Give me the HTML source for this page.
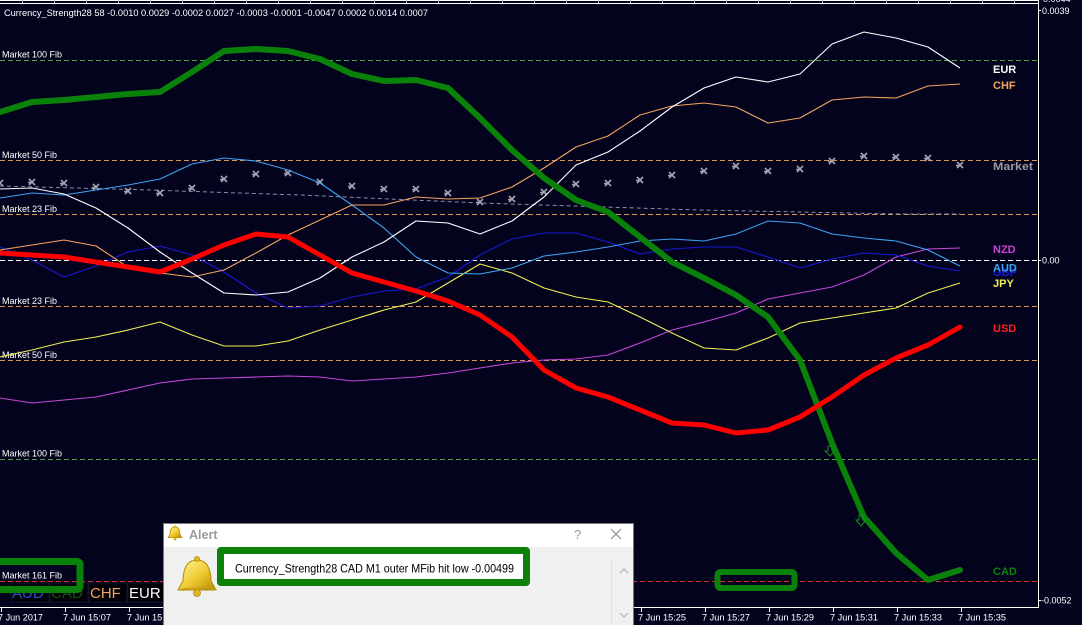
<!DOCTYPE html>
<html><head><meta charset="utf-8"><style>
html,body{margin:0;padding:0;background:#03031e;}
svg{display:block;}
text{font-family:"Liberation Sans",sans-serif;}
</style></head><body>
<svg width="1082" height="625" viewBox="0 0 1082 625" xmlns="http://www.w3.org/2000/svg">
<defs>
<linearGradient id="gold" x1="0" y1="0" x2="1" y2="1">
<stop offset="0" stop-color="#fff3a0"/><stop offset="0.5" stop-color="#f2cf3a"/><stop offset="1" stop-color="#b88a00"/>
</linearGradient>
</defs>
<rect x="0" y="0" width="1082" height="625" fill="#03031e"/>
<!-- top border -->
<line x1="0" y1="0.5" x2="1038" y2="0.5" stroke="#fff" stroke-width="1"/>
<line x1="0" y1="3.5" x2="1038" y2="3.5" stroke="#fff" stroke-width="1"/>
<g stroke="#bbb" stroke-width="1">
<line x1="22.5" y1="0" x2="22.5" y2="3"/><line x1="54.5" y1="0" x2="54.5" y2="3"/><line x1="86.5" y1="0" x2="86.5" y2="3"/><line x1="118.5" y1="0" x2="118.5" y2="3"/><line x1="150.5" y1="0" x2="150.5" y2="3"/><line x1="182.5" y1="0" x2="182.5" y2="3"/><line x1="214.5" y1="0" x2="214.5" y2="3"/><line x1="246.5" y1="0" x2="246.5" y2="3"/><line x1="278.5" y1="0" x2="278.5" y2="3"/><line x1="310.5" y1="0" x2="310.5" y2="3"/><line x1="342.5" y1="0" x2="342.5" y2="3"/><line x1="374.5" y1="0" x2="374.5" y2="3"/><line x1="406.5" y1="0" x2="406.5" y2="3"/><line x1="438.5" y1="0" x2="438.5" y2="3"/><line x1="470.5" y1="0" x2="470.5" y2="3"/><line x1="502.5" y1="0" x2="502.5" y2="3"/><line x1="534.5" y1="0" x2="534.5" y2="3"/><line x1="566.5" y1="0" x2="566.5" y2="3"/><line x1="598.5" y1="0" x2="598.5" y2="3"/><line x1="630.5" y1="0" x2="630.5" y2="3"/><line x1="662.5" y1="0" x2="662.5" y2="3"/><line x1="694.5" y1="0" x2="694.5" y2="3"/><line x1="726.5" y1="0" x2="726.5" y2="3"/><line x1="758.5" y1="0" x2="758.5" y2="3"/><line x1="790.5" y1="0" x2="790.5" y2="3"/><line x1="822.5" y1="0" x2="822.5" y2="3"/><line x1="854.5" y1="0" x2="854.5" y2="3"/><line x1="886.5" y1="0" x2="886.5" y2="3"/><line x1="918.5" y1="0" x2="918.5" y2="3"/><line x1="950.5" y1="0" x2="950.5" y2="3"/><line x1="982.5" y1="0" x2="982.5" y2="3"/><line x1="1014.5" y1="0" x2="1014.5" y2="3"/>
</g>
<text x="1043" y="2" font-size="9" fill="#fff">0.0044</text>

<!-- header -->
<text x="4" y="16" font-size="9" fill="#fff" textLength="424" lengthAdjust="spacingAndGlyphs">Currency_Strength28 58 -0.0010 0.0029 -0.0002 0.0027 -0.0003 -0.0001 -0.0047 0.0002 0.0014 0.0007</text>

<!-- horizontal levels -->
<g fill="none" stroke-width="1">
<line x1="0" y1="60.5" x2="1038" y2="60.5" stroke="#4aa84a" stroke-dasharray="5,3"/>
<line x1="0" y1="160.5" x2="1038" y2="160.5" stroke="#d4985a" stroke-dasharray="5,3"/>
<line x1="0" y1="214.5" x2="1038" y2="214.5" stroke="#d4985a" stroke-dasharray="5,3"/>
<line x1="0" y1="260.5" x2="1038" y2="260.5" stroke="#ffffff" stroke-dasharray="5,3"/>
<line x1="0" y1="306.5" x2="1038" y2="306.5" stroke="#d4985a" stroke-dasharray="5,3"/>
<line x1="0" y1="360.5" x2="1038" y2="360.5" stroke="#d4985a" stroke-dasharray="5,3"/>
<line x1="0" y1="459.5" x2="1038" y2="459.5" stroke="#4aa84a" stroke-dasharray="5,3"/>
<line x1="0" y1="581.5" x2="1038" y2="581.5" stroke="#c83232" stroke-dasharray="5,3"/>
<polyline points="0,186 150,190 300,195 480,203 700,210 900,214 960,214" stroke="#8c8cae" stroke-dasharray="4,3"/>
</g>

<!-- left labels -->
<g font-size="9" fill="#fff">
<text x="2" y="57.5">Market 100 Fib</text>
<text x="2" y="158">Market 50 Fib</text>
<text x="2" y="212">Market 23 Fib</text>
<text x="2" y="304">Market 23 Fib</text>
<text x="2" y="358">Market 50 Fib</text>
<text x="2" y="456.5">Market 100 Fib</text>
<text x="2" y="578.5">Market 161 Fib</text>
</g>

<!-- market stars -->
<g stroke="#a4a4b0" stroke-width="1.6" fill="none">
<path d="M-3,-3L3,3M3,-3L-3,3M-4,0.5L0,0.5" transform="translate(0,183)"/>
<path d="M-3,-3L3,3M3,-3L-3,3M-4,0.5L0,0.5" transform="translate(32,182)"/>
<path d="M-3,-3L3,3M3,-3L-3,3M-4,0.5L0,0.5" transform="translate(64,183)"/>
<path d="M-3,-3L3,3M3,-3L-3,3M-4,0.5L0,0.5" transform="translate(96,187)"/>
<path d="M-3,-3L3,3M3,-3L-3,3M-4,0.5L0,0.5" transform="translate(128,191)"/>
<path d="M-3,-3L3,3M3,-3L-3,3M-4,0.5L0,0.5" transform="translate(160,193)"/>
<path d="M-3,-3L3,3M3,-3L-3,3M-4,0.5L0,0.5" transform="translate(192,188)"/>
<path d="M-3,-3L3,3M3,-3L-3,3M-4,0.5L0,0.5" transform="translate(224,179)"/>
<path d="M-3,-3L3,3M3,-3L-3,3M-4,0.5L0,0.5" transform="translate(256,174)"/>
<path d="M-3,-3L3,3M3,-3L-3,3M-4,0.5L0,0.5" transform="translate(288,173)"/>
<path d="M-3,-3L3,3M3,-3L-3,3M-4,0.5L0,0.5" transform="translate(320,182)"/>
<path d="M-3,-3L3,3M3,-3L-3,3M-4,0.5L0,0.5" transform="translate(352,186)"/>
<path d="M-3,-3L3,3M3,-3L-3,3M-4,0.5L0,0.5" transform="translate(384,189)"/>
<path d="M-3,-3L3,3M3,-3L-3,3M-4,0.5L0,0.5" transform="translate(416,189)"/>
<path d="M-3,-3L3,3M3,-3L-3,3M-4,0.5L0,0.5" transform="translate(448,193)"/>
<path d="M-3,-3L3,3M3,-3L-3,3M-4,0.5L0,0.5" transform="translate(480,202)"/>
<path d="M-3,-3L3,3M3,-3L-3,3M-4,0.5L0,0.5" transform="translate(512,199)"/>
<path d="M-3,-3L3,3M3,-3L-3,3M-4,0.5L0,0.5" transform="translate(544,192)"/>
<path d="M-3,-3L3,3M3,-3L-3,3M-4,0.5L0,0.5" transform="translate(576,184)"/>
<path d="M-3,-3L3,3M3,-3L-3,3M-4,0.5L0,0.5" transform="translate(608,183)"/>
<path d="M-3,-3L3,3M3,-3L-3,3M-4,0.5L0,0.5" transform="translate(640,180)"/>
<path d="M-3,-3L3,3M3,-3L-3,3M-4,0.5L0,0.5" transform="translate(672,175)"/>
<path d="M-3,-3L3,3M3,-3L-3,3M-4,0.5L0,0.5" transform="translate(704,171)"/>
<path d="M-3,-3L3,3M3,-3L-3,3M-4,0.5L0,0.5" transform="translate(736,166)"/>
<path d="M-3,-3L3,3M3,-3L-3,3M-4,0.5L0,0.5" transform="translate(768,171)"/>
<path d="M-3,-3L3,3M3,-3L-3,3M-4,0.5L0,0.5" transform="translate(800,169)"/>
<path d="M-3,-3L3,3M3,-3L-3,3M-4,0.5L0,0.5" transform="translate(832,161)"/>
<path d="M-3,-3L3,3M3,-3L-3,3M-4,0.5L0,0.5" transform="translate(864,156)"/>
<path d="M-3,-3L3,3M3,-3L-3,3M-4,0.5L0,0.5" transform="translate(896,157)"/>
<path d="M-3,-3L3,3M3,-3L-3,3M-4,0.5L0,0.5" transform="translate(928,158)"/>
<path d="M-3,-3L3,3M3,-3L-3,3M-4,0.5L0,0.5" transform="translate(960,165)"/>
</g>

<!-- thin series -->
<g fill="none" stroke-width="1.1" stroke-linejoin="round">
<polyline stroke="#c848d8" points="0,398 32,403 64,400 96,397 128,390 160,383 192,379 224,378 256,377 288,376 320,377 352,381 384,379 416,377 448,373 480,368 512,363 544,360 576,359 608,355 640,343 672,330 704,322 736,313 768,299 800,293 832,287 864,275 896,257 928,249 960,248"/>
<polyline stroke="#f0f050" points="0,357 32,350 64,342 96,337 128,330 160,322 192,335 224,346 256,346 288,341 320,330 352,320 384,310 416,302 448,283 480,264 512,273 544,288 576,297 608,302 640,317 672,333 704,348 736,350 768,338 800,323 832,318 864,313 896,308 928,293 960,283"/>
<polyline stroke="#1818d8" points="0,247 32,260 64,277 96,266 128,252 160,246 192,255 224,272 256,293 288,308 320,306 352,297 384,291 416,289 448,277 480,255 512,239 544,233 576,233 608,242 640,254 672,249 704,247 736,247 768,257 800,268 832,259 864,253 896,255 928,266 960,271"/>
<polyline stroke="#3ca4f0" points="0,198 32,193 64,195 96,190 128,185 160,179 192,164 224,158 256,161 288,170 320,183 352,205 384,228 416,257 448,273 480,274 512,268 544,256 576,252 608,247 640,241 672,239 704,241 736,234 768,221 800,223 832,234 864,238 896,241 928,250 960,266"/>
<polyline stroke="#f4a460" points="0,250 32,245 64,240 96,246 128,267 160,273 192,277 224,270 256,253 288,235 320,220 352,205 384,205 416,197 448,199 480,198 512,187 544,168 576,147 608,136 640,115 672,106 704,103 736,107 768,123 800,118 832,100 864,97 896,98 928,86 960,84"/>
<polyline stroke="#ffffff" points="0,189 32,188 64,194 96,208 128,228 160,252 192,273 224,293 256,295 288,292 320,278 352,257 384,242 416,221 448,223 480,234 512,221 544,197 576,165 608,152 640,131 672,107 704,88 736,77 768,82 800,74 832,44 864,32 896,38 928,47 960,68"/>
</g>

<!-- thick series -->
<polyline fill="none" stroke="#0a820a" stroke-width="6" stroke-linejoin="round" stroke-linecap="round" points="0,112 32,102 64,100 96,97 128,94 160,92 192,72 224,51 256,49 288,51 320,59 352,74 384,81 416,80 448,88 480,118 512,150 544,178 576,200 608,212 640,237 672,262 704,278 736,295 768,317 800,360 832,443 864,517 896,553 928,580 960,570"/>
<polyline fill="none" stroke="#ff0000" stroke-width="5" stroke-linejoin="round" stroke-linecap="round" points="0,253 32,255 64,257 96,262 128,267 160,272 192,259 224,245 256,234 288,237 320,255 352,273 384,282 416,291 448,301 480,315 512,337 544,370 576,388 608,397 640,410 672,423 704,425 736,433 768,430 800,417 832,397 864,375 896,358 928,345 960,327"/>

<!-- down arrows -->
<g fill="none" stroke="#1a8a1a" stroke-width="1">
<path d="M828,446 L832,446 L832,451 L835,451 L830,456 L825,451 L828,451 Z"/>
<path d="M859,515 L863,515 L863,520 L866,520 L861,526 L856,520 L859,520 Z"/>
</g>

<!-- right labels -->
<g font-size="11" font-weight="bold">
<text x="993" y="73" fill="#ffffff">EUR</text>
<text x="993" y="89" fill="#f4a460">CHF</text>
<text x="993" y="170" fill="#9a9aa4" textLength="40" lengthAdjust="spacingAndGlyphs">Market</text>
<text x="993" y="253" fill="#d040d8">NZD</text>
<text x="993" y="276" fill="#1818d8">GBP</text>
<text x="993" y="271.5" fill="#3ca4f0">AUD</text>
<text x="993" y="287" fill="#f0f050">JPY</text>
<text x="993" y="332" fill="#ff2020">USD</text>
<text x="993" y="575" fill="#0a820a">CAD</text>
</g>

<!-- axes -->
<line x1="1038.5" y1="0" x2="1038.5" y2="608" stroke="#fff" stroke-width="1"/>
<line x1="0" y1="607.5" x2="1039" y2="607.5" stroke="#fff" stroke-width="1"/>
<g stroke="#fff" stroke-width="1">
<line x1="1038" y1="10.5" x2="1041" y2="10.5"/>
<line x1="1038" y1="260.5" x2="1041" y2="260.5"/>
<line x1="1038" y1="600.5" x2="1041" y2="600.5"/>
<line x1="1.5" y1="607" x2="1.5" y2="612"/><line x1="65.5" y1="607" x2="65.5" y2="612"/><line x1="129.5" y1="607" x2="129.5" y2="612"/>
<line x1="641.5" y1="607" x2="641.5" y2="612"/><line x1="705.5" y1="607" x2="705.5" y2="612"/><line x1="769.5" y1="607" x2="769.5" y2="612"/><line x1="833.5" y1="607" x2="833.5" y2="612"/><line x1="897.5" y1="607" x2="897.5" y2="612"/><line x1="961.5" y1="607" x2="961.5" y2="612"/>
</g>
<g font-size="9" fill="#fff">
<text x="1042" y="14">0.0039</text>
<text x="1042" y="263.5">0.00</text>
<text x="1041" y="603.5">-0.0052</text>
<text x="-2" y="620.5" textLength="45" lengthAdjust="spacingAndGlyphs">7 Jun 2017</text>
<text x="63" y="620.5" textLength="48" lengthAdjust="spacingAndGlyphs">7 Jun 15:07</text>
<text x="127" y="620.5" textLength="48" lengthAdjust="spacingAndGlyphs">7 Jun 15:09</text>
<text x="638" y="620.5" textLength="48" lengthAdjust="spacingAndGlyphs">7 Jun 15:25</text>
<text x="702" y="620.5" textLength="48" lengthAdjust="spacingAndGlyphs">7 Jun 15:27</text>
<text x="766" y="620.5" textLength="48" lengthAdjust="spacingAndGlyphs">7 Jun 15:29</text>
<text x="830" y="620.5" textLength="48" lengthAdjust="spacingAndGlyphs">7 Jun 15:31</text>
<text x="894" y="620.5" textLength="48" lengthAdjust="spacingAndGlyphs">7 Jun 15:33</text>
<text x="958" y="620.5" textLength="48" lengthAdjust="spacingAndGlyphs">7 Jun 15:35</text>
</g>

<!-- bottom-left buttons -->
<g>
<rect x="11" y="583" width="38" height="19" fill="#000006" stroke="#15152a"/>
<rect x="50" y="583" width="38" height="19" fill="#000006" stroke="#15152a"/>
<rect x="89" y="583" width="38" height="19" fill="#000006" stroke="#15152a"/>
<rect x="128" y="583" width="38" height="19" fill="#000006" stroke="#15152a"/>
<g font-size="15">
<text x="12" y="598" fill="#2c50cc">AUD</text>
<text x="51" y="598" fill="#145214">CAD</text>
<text x="90" y="598" fill="#f4a460">CHF</text>
<text x="129" y="598" fill="#ffffff">EUR</text>
</g>
</g>

<!-- green highlight boxes -->
<rect x="-4" y="561.5" width="84" height="28" rx="3" fill="none" stroke="#0a820a" stroke-width="7"/>
<rect x="717.5" y="572" width="77" height="16" rx="3" fill="none" stroke="#0a820a" stroke-width="6"/>

<!-- alert dialog -->
<rect x="163.5" y="523.5" width="470" height="102" fill="#f0f0f0" stroke="#7a7a7a" stroke-width="1"/>
<rect x="164" y="524" width="469" height="23" fill="#ffffff"/>
<g transform="translate(175,533) scale(0.36)">
<path d="M0,-17 C-11,-17 -14,-6 -14,4 L-19,13 L19,13 L14,4 C14,-6 11,-17 0,-17 Z" fill="url(#gold)" stroke="#b08a00" stroke-width="2"/>
<circle cx="0" cy="17" r="4" fill="#d8b020"/>
<circle cx="0" cy="-18" r="3" fill="#d8b020"/>
</g>
<text x="189" y="539" font-size="12.5" font-weight="bold" fill="#9a9a9a">Alert</text>
<text x="574" y="539" font-size="13" fill="#9a9a9a">?</text>
<path d="M611,529 L621,539 M621,529 L611,539" stroke="#8a8a8a" stroke-width="1.2"/>
<g transform="translate(197,577)">
<path d="M0,-17 C-11,-17 -14,-6 -14,4 L-19,13 L19,13 L14,4 C14,-6 11,-17 0,-17 Z" fill="url(#gold)" stroke="#b08a00" stroke-width="1"/>
<path d="M-19,13 Q0,9 19,13" fill="none" stroke="#c09a10" stroke-width="1"/>
<circle cx="0" cy="16" r="3.5" fill="#e0b828" stroke="#b08a00" stroke-width="0.8"/>
<circle cx="0" cy="-18" r="2.5" fill="#e0b828" stroke="#b08a00" stroke-width="0.8"/>
</g>
<rect x="217" y="547" width="313" height="39" rx="4" fill="#0a820a"/>
<rect x="224" y="554" width="299" height="25" fill="#ffffff"/>
<text x="235" y="572.5" font-size="12" fill="#000" textLength="279" lengthAdjust="spacingAndGlyphs">Currency_Strength28 CAD M1 outer MFib hit low -0.00499</text>
<line x1="611.5" y1="560" x2="611.5" y2="625" stroke="#e2e2e2" stroke-width="1"/>
<path d="M620,573 L624,569 L628,573" fill="none" stroke="#b0b0b0" stroke-width="1.2"/>
<path d="M620,613 L624,617 L628,613" fill="none" stroke="#b0b0b0" stroke-width="1.2"/>
</svg>
</body></html>
